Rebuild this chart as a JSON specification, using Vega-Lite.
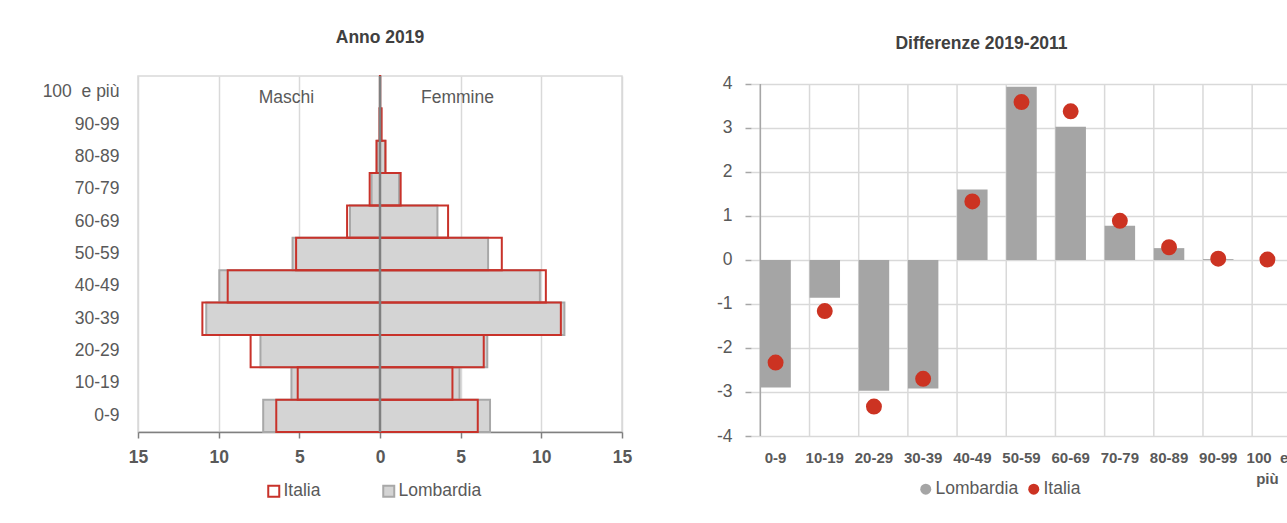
{
  "$schema": "https://vega.github.io/schema/vega-lite/v6.json",
  "background": "white",
  "padding": {"left": 41, "top": 28, "right": 0, "bottom": 0},
  "spacing": 83,
  "config": {
    "font": "Liberation Sans, Arial, sans-serif",
    "title": {"fontSize": 17.5, "fontWeight": "bold", "color": "#404040", "anchor": "middle"},
    "axis": {"labelColor": "#595959", "labelFontSize": 17.5, "title": null, "labelFlush": false, "labelOverlap": false},
    "legend": {"labelColor": "#595959", "labelFontSize": 17.5, "title": null}
  },
  "datasets": {
    "piramide": [
      {"eta": "0-9", "serie": "Lombardia", "sesso": "Maschi", "valore": -7.24},
      {"eta": "0-9", "serie": "Lombardia", "sesso": "Femmine", "valore": 6.82},
      {"eta": "0-9", "serie": "Italia", "sesso": "Maschi", "valore": -6.43},
      {"eta": "0-9", "serie": "Italia", "sesso": "Femmine", "valore": 6.06},
      {"eta": "10-19", "serie": "Lombardia", "sesso": "Maschi", "valore": -5.49},
      {"eta": "10-19", "serie": "Lombardia", "sesso": "Femmine", "valore": 4.93},
      {"eta": "10-19", "serie": "Italia", "sesso": "Maschi", "valore": -5.10},
      {"eta": "10-19", "serie": "Italia", "sesso": "Femmine", "valore": 4.49},
      {"eta": "20-29", "serie": "Lombardia", "sesso": "Maschi", "valore": -7.41},
      {"eta": "20-29", "serie": "Lombardia", "sesso": "Femmine", "valore": 6.65},
      {"eta": "20-29", "serie": "Italia", "sesso": "Maschi", "valore": -8.02},
      {"eta": "20-29", "serie": "Italia", "sesso": "Femmine", "valore": 6.43},
      {"eta": "30-39", "serie": "Lombardia", "sesso": "Maschi", "valore": -10.77},
      {"eta": "30-39", "serie": "Lombardia", "sesso": "Femmine", "valore": 11.43},
      {"eta": "30-39", "serie": "Italia", "sesso": "Maschi", "valore": -11.01},
      {"eta": "30-39", "serie": "Italia", "sesso": "Femmine", "valore": 11.21},
      {"eta": "40-49", "serie": "Lombardia", "sesso": "Maschi", "valore": -9.96},
      {"eta": "40-49", "serie": "Lombardia", "sesso": "Femmine", "valore": 9.91},
      {"eta": "40-49", "serie": "Italia", "sesso": "Maschi", "valore": -9.44},
      {"eta": "40-49", "serie": "Italia", "sesso": "Femmine", "valore": 10.28},
      {"eta": "50-59", "serie": "Lombardia", "sesso": "Maschi", "valore": -5.42},
      {"eta": "50-59", "serie": "Lombardia", "sesso": "Femmine", "valore": 6.70},
      {"eta": "50-59", "serie": "Italia", "sesso": "Maschi", "valore": -5.20},
      {"eta": "50-59", "serie": "Italia", "sesso": "Femmine", "valore": 7.55},
      {"eta": "60-69", "serie": "Lombardia", "sesso": "Maschi", "valore": -1.86},
      {"eta": "60-69", "serie": "Lombardia", "sesso": "Femmine", "valore": 3.56},
      {"eta": "60-69", "serie": "Italia", "sesso": "Maschi", "valore": -2.04},
      {"eta": "60-69", "serie": "Italia", "sesso": "Femmine", "valore": 4.22},
      {"eta": "70-79", "serie": "Lombardia", "sesso": "Maschi", "valore": -0.52},
      {"eta": "70-79", "serie": "Lombardia", "sesso": "Femmine", "valore": 1.18},
      {"eta": "70-79", "serie": "Italia", "sesso": "Maschi", "valore": -0.64},
      {"eta": "70-79", "serie": "Italia", "sesso": "Femmine", "valore": 1.28},
      {"eta": "80-89", "serie": "Lombardia", "sesso": "Maschi", "valore": -0.17},
      {"eta": "80-89", "serie": "Lombardia", "sesso": "Femmine", "valore": 0.32},
      {"eta": "80-89", "serie": "Italia", "sesso": "Maschi", "valore": -0.22},
      {"eta": "80-89", "serie": "Italia", "sesso": "Femmine", "valore": 0.34},
      {"eta": "90-99", "serie": "Lombardia", "sesso": "Maschi", "valore": -0.02},
      {"eta": "90-99", "serie": "Lombardia", "sesso": "Femmine", "valore": 0.07},
      {"eta": "90-99", "serie": "Italia", "sesso": "Maschi", "valore": -0.03},
      {"eta": "90-99", "serie": "Italia", "sesso": "Femmine", "valore": 0.10},
      {"eta": "100 e più", "serie": "Lombardia", "sesso": "Maschi", "valore": -0.003},
      {"eta": "100 e più", "serie": "Lombardia", "sesso": "Femmine", "valore": 0.01},
      {"eta": "100 e più", "serie": "Italia", "sesso": "Maschi", "valore": -0.004},
      {"eta": "100 e più", "serie": "Italia", "sesso": "Femmine", "valore": 0.012}
    ],
    "note": [
      {"testo": "Maschi", "pos": -5.8, "eta": "100 e più"},
      {"testo": "Femmine", "pos": 4.8, "eta": "100 e più"}
    ],
    "diff": [
      {"eta": "0-9", "serie": "Lombardia", "valore": -2.90},
      {"eta": "0-9", "serie": "Italia", "valore": -2.33},
      {"eta": "10-19", "serie": "Lombardia", "valore": -0.86},
      {"eta": "10-19", "serie": "Italia", "valore": -1.16},
      {"eta": "20-29", "serie": "Lombardia", "valore": -2.97},
      {"eta": "20-29", "serie": "Italia", "valore": -3.33},
      {"eta": "30-39", "serie": "Lombardia", "valore": -2.92},
      {"eta": "30-39", "serie": "Italia", "valore": -2.70},
      {"eta": "40-49", "serie": "Lombardia", "valore": 1.60},
      {"eta": "40-49", "serie": "Italia", "valore": 1.33},
      {"eta": "50-59", "serie": "Lombardia", "valore": 3.94},
      {"eta": "50-59", "serie": "Italia", "valore": 3.59},
      {"eta": "60-69", "serie": "Lombardia", "valore": 3.03},
      {"eta": "60-69", "serie": "Italia", "valore": 3.38},
      {"eta": "70-79", "serie": "Lombardia", "valore": 0.78},
      {"eta": "70-79", "serie": "Italia", "valore": 0.89},
      {"eta": "80-89", "serie": "Lombardia", "valore": 0.27},
      {"eta": "80-89", "serie": "Italia", "valore": 0.29},
      {"eta": "90-99", "serie": "Lombardia", "valore": 0.02},
      {"eta": "90-99", "serie": "Italia", "valore": 0.03},
      {"eta": "100 e più", "serie": "Lombardia", "valore": 0.0},
      {"eta": "100 e più", "serie": "Italia", "valore": 0.01}
    ]
  },
  "hconcat": [
    {
      "width": 484,
      "height": 356,
      "title": {"text": "Anno 2019", "offset": 28},
      "view": {"stroke": "#d9d9d9", "strokeWidth": 1.5},
      "layer": [
        {
          "data": {"name": "piramide"},
          "transform": [{"filter": "datum.serie == 'Lombardia'"}],
          "mark": {"type": "bar", "strokeWidth": 2},
          "encoding": {
            "y": {"field": "eta", "type": "nominal",
              "scale": {"domain": ["100 e più", "90-99", "80-89", "70-79", "60-69", "50-59", "40-49", "30-39", "20-29", "10-19", "0-9"], "paddingInner": 0, "paddingOuter": 0},
              "axis": {"domain": false, "ticks": false, "grid": false, "labelPadding": 19,
                "labelExpr": "datum.label == '100 e più' ? '100\u00a0 e più' : datum.label"}},
            "x": {"field": "valore", "type": "quantitative", "stack": null,
              "scale": {"domain": [-15, 15], "nice": false},
              "axis": {"values": [-15, -10, -5, 0, 5, 10, 15], "labelExpr": "'' + abs(datum.value)", "labelFontWeight": "bold", "labelPadding": 10,
                "domainColor": "#808080", "domainWidth": 1.5, "tickColor": "#808080", "tickSize": 6, "tickWidth": 1.5,
                "grid": true, "gridColor": "#d9d9d9", "gridWidth": 1.5}},
            "fill": {"field": "serie", "type": "nominal",
              "scale": {"domain": ["Italia", "Lombardia"], "range": ["transparent", "#d4d4d4"]},
              "legend": {"orient": "none", "direction": "horizontal", "legendX": 127, "legendY": 406, "columnPadding": 58, "labelOffset": 1, "symbolSize": 121, "symbolStrokeWidth": 2, "symbolType": "square"}},
            "stroke": {"field": "serie", "type": "nominal",
              "scale": {"domain": ["Italia", "Lombardia"], "range": ["#c8322a", "#a8a8a8"]},
              "legend": {"orient": "none", "direction": "horizontal", "legendX": 127, "legendY": 406, "columnPadding": 58, "labelOffset": 1, "symbolSize": 121, "symbolStrokeWidth": 2, "symbolType": "square"}}
          }
        },
        {
          "data": {"name": "piramide"},
          "transform": [{"filter": "datum.serie == 'Italia'"}],
          "mark": {"type": "bar", "strokeWidth": 2},
          "encoding": {
            "y": {"field": "eta", "type": "nominal"},
            "x": {"field": "valore", "type": "quantitative", "stack": null},
            "fill": {"field": "serie", "type": "nominal"},
            "stroke": {"field": "serie", "type": "nominal"}
          }
        },
        {
          "data": {"name": "note"},
          "mark": {"type": "text", "fontSize": 17.5, "color": "#595959", "align": "center", "dy": 6},
          "encoding": {
            "x": {"field": "pos", "type": "quantitative"},
            "y": {"field": "eta", "type": "nominal"},
            "text": {"field": "testo"}
          }
        },
        {
          "data": {"values": [{"zero": 0}]},
          "mark": {"type": "rule", "stroke": "#7f7f7f", "strokeWidth": 2.5, "opacity": 1},
          "encoding": {"x": {"field": "zero", "type": "quantitative"}}
        }
      ]
    },
    {
      "width": 541,
      "height": 360,
      "title": {"text": "Differenze 2019-2011", "offset": 22, "dx": -40},
      "view": {"stroke": null},
      "data": {"name": "diff"},
      "encoding": {
        "x": {"field": "eta", "type": "nominal",
          "scale": {"domain": ["0-9", "10-19", "20-29", "30-39", "40-49", "50-59", "60-69", "70-79", "80-89", "90-99", "100 e più"], "paddingInner": 0.38, "paddingOuter": 0.19},
          "axis": {"labelAngle": 0, "labelFontWeight": "bold", "labelFontSize": 15, "labelPadding": 14, "domain": false, "ticks": false, "grid": false, "labelLineHeight": 21,
            "labelExpr": "datum.label == '100 e più' ? ['100\u00a0 e', 'più'] : datum.label"}}
      },
      "layer": [
        {
          "transform": [{"filter": "datum.serie == 'Lombardia'"}],
          "mark": {"type": "rule", "color": "#d9d9d9", "strokeWidth": 1.5},
          "encoding": {
            "x": {"field": "eta", "type": "nominal", "bandPosition": 0},
            "y": {"datum": 4, "type": "quantitative"},
            "y2": {"datum": -4}
          }
        },
        {
          "transform": [{"filter": "datum.serie == 'Lombardia' && datum.eta == '0-9'"}],
          "mark": {"type": "rule", "color": "#a6a6a6", "strokeWidth": 1.5},
          "encoding": {
            "x": {"field": "eta", "type": "nominal", "bandPosition": 0},
            "y": {"datum": 4, "type": "quantitative"},
            "y2": {"datum": -4}
          }
        },
        {
          "transform": [{"filter": "datum.serie == 'Lombardia'"}],
          "mark": {"type": "bar"},
          "encoding": {
            "y": {"field": "valore", "type": "quantitative",
              "scale": {"domain": [-4, 4.1818], "nice": false, "zero": false},
              "axis": {"values": [-4, -3, -2, -1, 0, 1, 2, 3, 4], "labelExpr": "'' + datum.value", "grid": true, "gridColor": "#d9d9d9", "gridWidth": 1.5,
                "domain": false, "tickColor": "#a6a6a6", "tickSize": 6, "tickWidth": 1.5, "labelPadding": 13}},
            "color": {"field": "serie", "type": "nominal",
              "scale": {"domain": ["Lombardia", "Italia"], "range": ["#a5a5a5", "#cc3322"]},
              "legend": {"orient": "none", "direction": "horizontal", "legendX": 166, "legendY": 404, "columnPadding": 6, "labelOffset": 1, "symbolSize": 121}},
            "shape": {"field": "serie", "type": "nominal",
              "scale": {"domain": ["Lombardia", "Italia"], "range": ["square", "circle"]},
              "legend": {"orient": "none", "direction": "horizontal", "legendX": 166, "legendY": 404, "columnPadding": 6, "labelOffset": 1, "symbolSize": 121}}
          }
        },
        {
          "mark": {"type": "rule", "color": "#a6a6a6", "strokeWidth": 2},
          "encoding": {"y": {"datum": 0, "type": "quantitative"}}
        },
        {
          "transform": [{"filter": "datum.serie == 'Italia'"}],
          "mark": {"type": "point", "filled": true, "size": 254, "opacity": 1},
          "encoding": {
            "y": {"field": "valore", "type": "quantitative"},
            "color": {"field": "serie", "type": "nominal"},
            "shape": {"field": "serie", "type": "nominal"}
          }
        }
      ]
    }
  ],
  "resolve": {
    "scale": {"x": "independent", "y": "independent", "color": "independent", "fill": "independent", "stroke": "independent", "shape": "independent"},
    "legend": {"color": "independent", "fill": "independent", "stroke": "independent", "shape": "independent"}
  }
}
